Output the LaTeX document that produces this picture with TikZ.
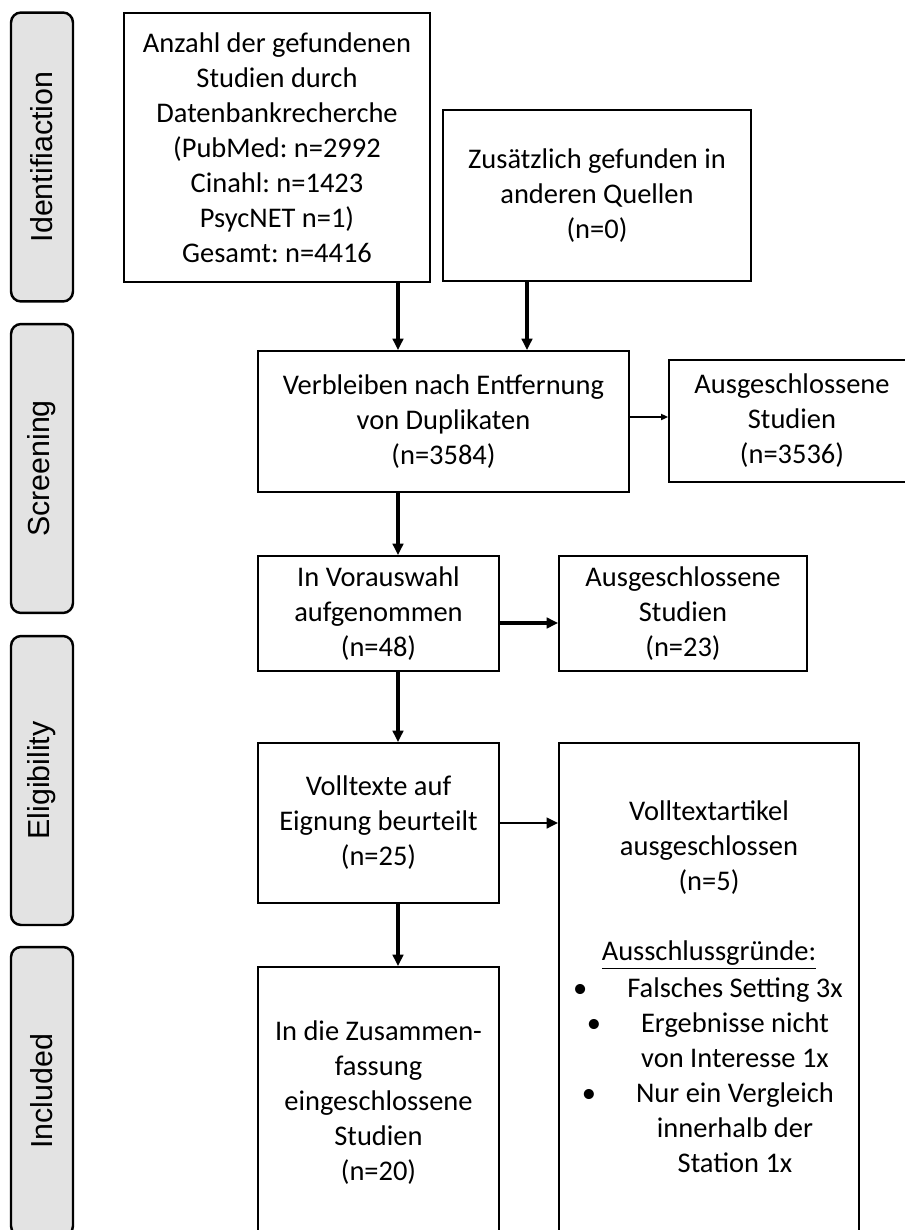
\documentclass[tikz,border=0pt]{standalone}
\usepackage{fontspec}
\setmainfont{Carlito}
\newfontfamily\phasefont{Liberation Sans}
\usetikzlibrary{arrows.meta}
\frenchspacing

\begin{document}
\begin{tikzpicture}[x=0.02cm, y=-0.02cm,
	phase/.style={draw, line width=1.4pt, rounded corners=0.2cm, fill=black!11, rotate=90, minimum height=1.24cm, minimum width=5.78cm, font=\phasefont\fontsize{17.3}{19}\selectfont},
	box/.style={draw, line width=1.1pt, align=center, inner sep=0pt, font=\fontsize{16.2}{19.9}\selectfont},
	txt/.style={align=center, inner sep=0pt, font=\fontsize{16.2}{19.9}\selectfont},
	flow/.style={-{Triangle[length=6.5pt,width=6pt]}, line width=1.8pt}]
	\useasboundingbox (0,0) rectangle (905,1230);
	%\draw [help lines] (0,0) grid (905,1230);
	
	% phases on the left
	\node [phase] (ident) at (42,157) {Identifiaction};
	\node [phase] (screen) at (42,468.5) {Screening};
	\node [phase] (elig) at (42,780.5) {Eligibility};
	\node [phase] (incl) at (42,1091.5) {Included};
	
	% boxes
	\node [box, minimum width=6.12cm, minimum height=5.38cm] (found) at (277,147.5) {Anzahl der gefundenen\\Studien durch\\Datenbankrecherche\\(PubMed: n=2992\\Cinahl: n=1423\\PsycNET n=1)\\Gesamt: n=4416};
	\node [box, minimum width=6.16cm, minimum height=3.42cm] (other) at (597,195.5) {Zusätzlich gefunden in\\anderen Quellen\\(n=0)};
	\node [box, minimum width=7.42cm, minimum height=2.82cm] (dedup) at (443.5,421.5) {Verbleiben nach Entfernung\\von Duplikaten\\(n=3584)};
	\node [box, minimum width=4.92cm, minimum height=2.44cm] (excl1) at (792,421) {Ausgeschlossene\\Studien\\(n=3536)};
	\node [box, minimum width=4.82cm, minimum height=2.3cm] (pre) at (378.5,613.5) {In Vorauswahl\\aufgenommen\\(n=48)};
	\node [box, minimum width=4.96cm, minimum height=2.3cm] (excl2) at (683,613.5) {Ausgeschlossene\\Studien\\(n=23)};
	\node [box, minimum width=4.82cm, minimum height=3.2cm] (full) at (378.5,823) {Volltexte auf\\Eignung beurteilt\\(n=25)};
	\node [box, minimum width=6cm, minimum height=10.14cm] (excl3) at (709,996.5) {};
	\node [box, minimum width=4.82cm, minimum height=5.66cm] (final) at (378.5,1108.5) {};
	
	% texts in the open boxes
	\node [txt] (excl3head) at (709,885) {Volltextartikel\\ausgeschlossen\\(n=5)\\[19.9pt]\underline{Ausschlussgründe:}};
	\node [txt] (excl3list) at (735,1075) {\llap{\textbullet\hspace{0.8cm}}Falsches Setting 3x\\\llap{\textbullet\hspace{0.8cm}}Ergebnisse nicht\\von Interesse 1x\\\llap{\textbullet\hspace{0.8cm}}Nur ein Vergleich\\innerhalb der\\Station 1x};
	\node [txt] (finaltext) at (378.5,1103) {In die Zusammen-\\fassung\\eingeschlossene\\Studien\\(n=20)};
	
	% arrows
	\coordinate (trunk) at (398,0);
	\coordinate (feed) at (527,0);
	\draw [flow] (found.south -| trunk) -- (dedup.north -| trunk);
	\draw [flow] (other.south -| feed) -- (dedup.north -| feed);
	\draw [flow, line width=0.9pt, -{Triangle[length=4pt,width=3.5pt]}] ([yshift=0.09cm]dedup.east) -- ([yshift=0.09cm]dedup.east -| excl1.west);
	\draw [flow] (dedup.south -| trunk) -- (pre.north -| trunk);
	\draw [flow, line width=2.6pt] ([yshift=-0.19cm]pre.east) -- ([yshift=-0.19cm]excl2.west);
	\draw [flow] (pre.south -| trunk) -- (full.north -| trunk);
	\draw [flow, line width=1.5pt] (full.east) -- (full.east -| excl3.west);
	\draw [flow] (full.south -| trunk) -- (final.north -| trunk);
\end{tikzpicture}
\end{document}
